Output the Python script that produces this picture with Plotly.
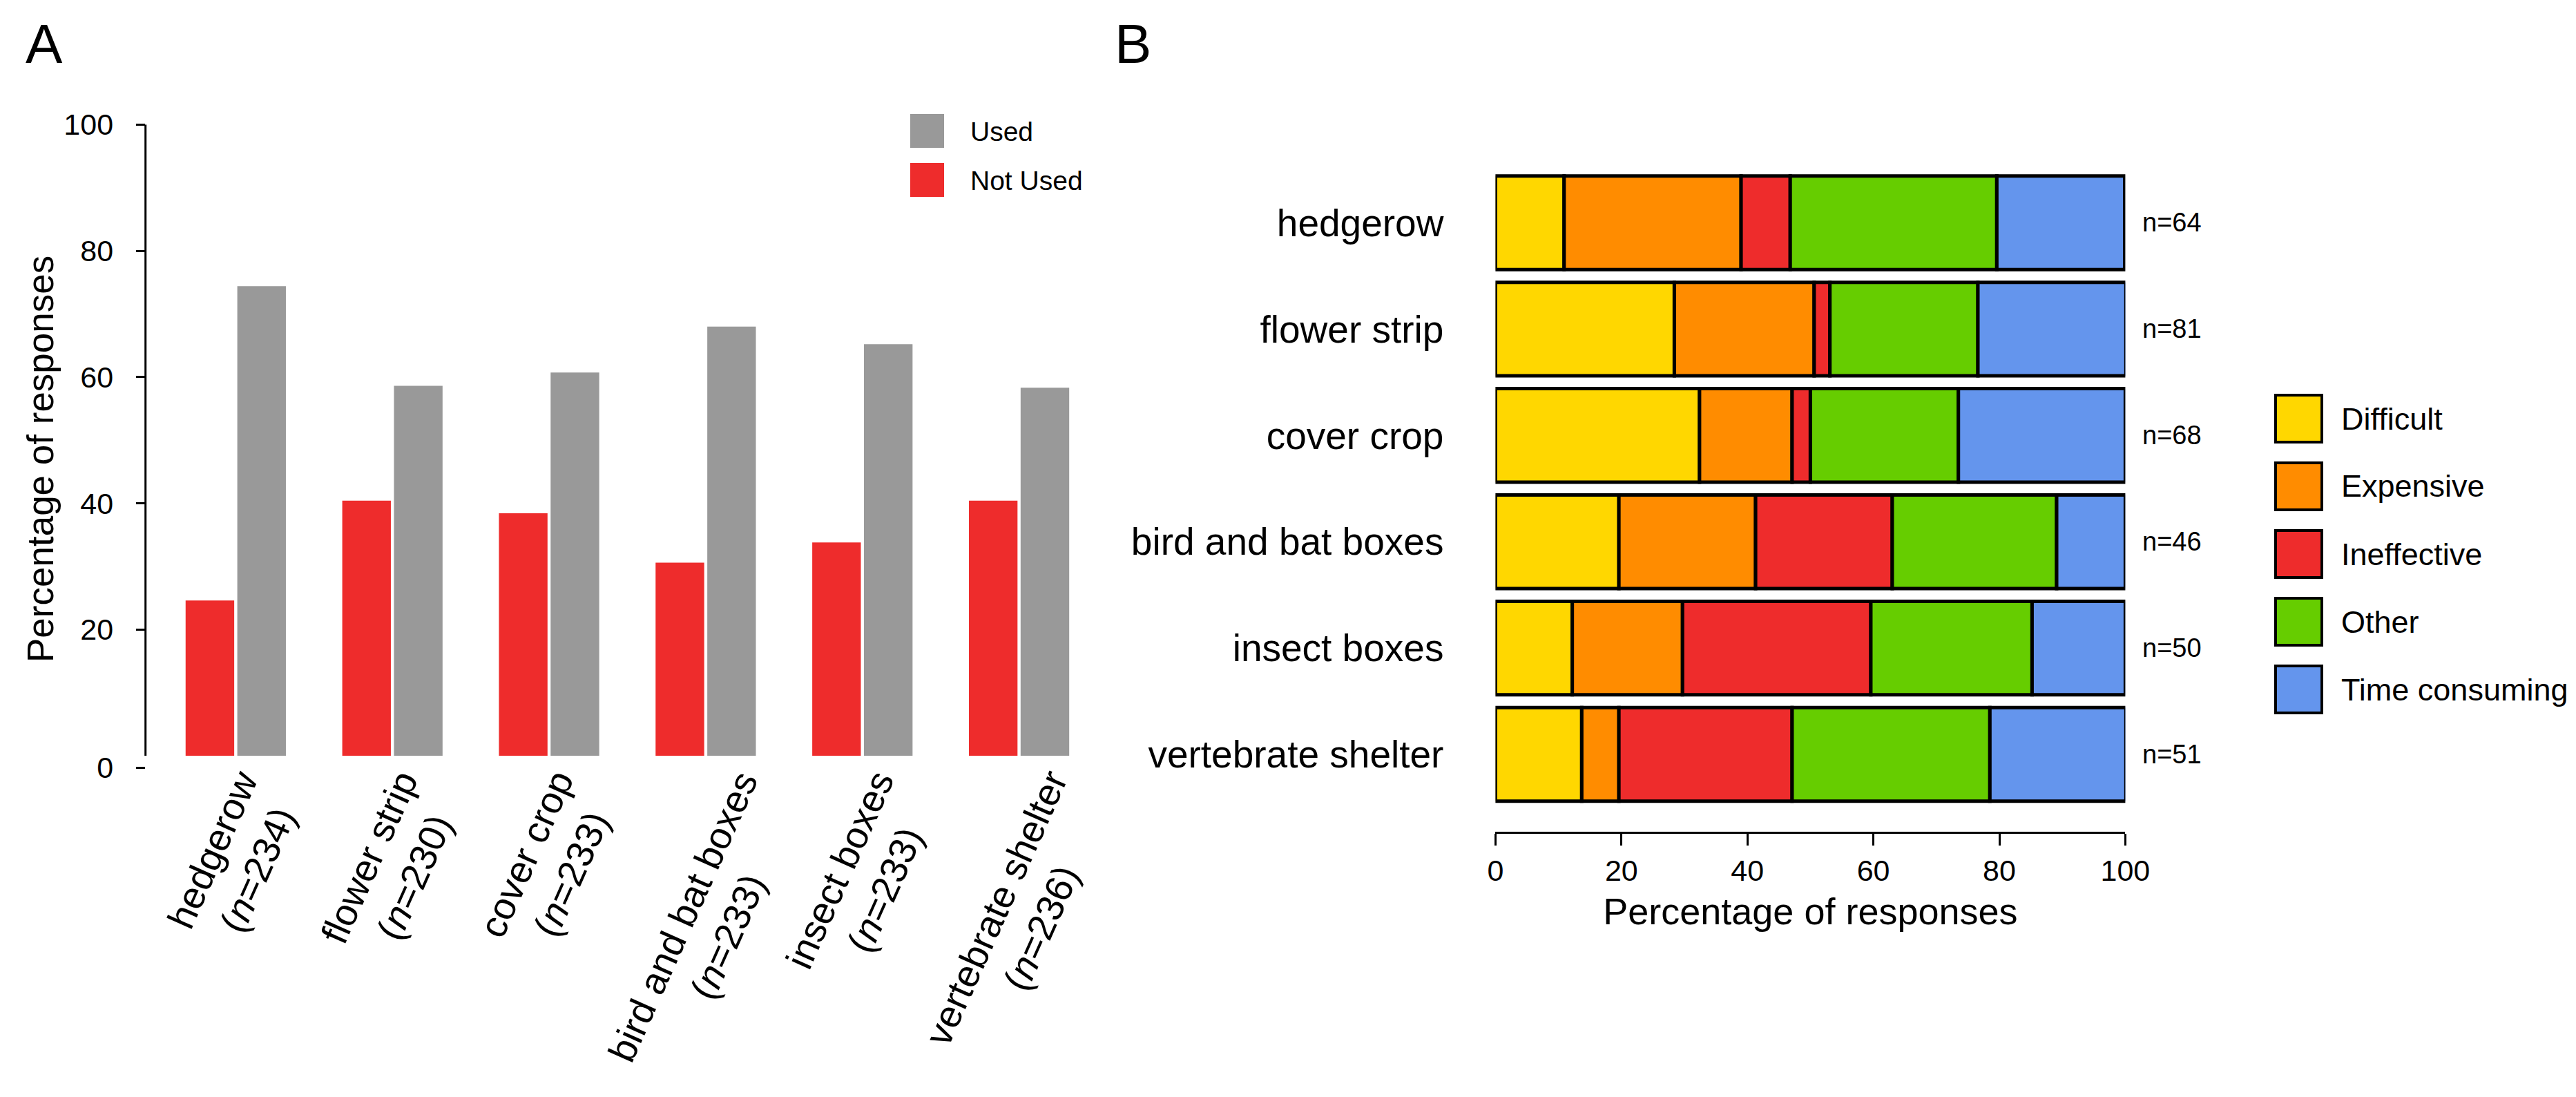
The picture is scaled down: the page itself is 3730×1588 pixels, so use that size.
import numpy as np
import plotly.graph_objects as go

W, H = 3730, 1588
FONT = "Liberation Sans, Arial, Helvetica, sans-serif"

# ---------------- data ----------------
practices = ["hedgerow", "flower strip", "cover crop", "bird and bat boxes",
             "insect boxes", "vertebrate shelter"]
n_used_total = [234, 230, 233, 233, 233, 236]
not_used = [24.6, 40.4, 38.4, 30.6, 33.8, 40.4]
used = [74.4, 58.6, 60.7, 68.0, 65.2, 58.3]
y_ticks_a = [0, 20, 40, 60, 80, 100]

reasons = ["Difficult", "Expensive", "Ineffective", "Other", "Time consuming"]
difficult = [10.9, 28.4, 32.4, 19.6, 12.2, 13.7]
expensive = [28.1, 22.2, 14.7, 21.7, 17.5, 5.9]
ineffective = [7.8, 2.5, 2.9, 21.7, 29.9, 27.5]
other = [32.8, 23.5, 23.5, 26.1, 25.6, 31.4]
time_consuming = [20.3, 23.5, 26.5, 10.9, 14.8, 21.6]
n_reason = [64, 81, 68, 46, 50, 51]
x_ticks_b = [0, 20, 40, 60, 80, 100]

col_used = "#999999"
col_not_used = "#EE2C2C"
reason_colors = ["#FFD700", "#FF8C00", "#EE2C2C", "#66CD00", "#6495ED"]


def px(x):
    return x / W


def py(y):
    return 1 - y / H


fig = go.Figure()

# ---------------- panel A ----------------
fig.add_trace(go.Bar(x=practices, y=not_used, name="Not Used",
                     marker=dict(color=col_not_used, line=dict(width=0)),
                     xaxis="x", yaxis="y", showlegend=False))
fig.add_trace(go.Bar(x=practices, y=used, name="Used",
                     marker=dict(color=col_used, line=dict(width=0)),
                     xaxis="x", yaxis="y", showlegend=False))

# ---------------- panel B (stacked horizontal) ----------------
series_b = [difficult, expensive, ineffective, other, time_consuming]
base = np.zeros(len(practices))
for name, vals, col in zip(reasons, series_b, reason_colors):
    fig.add_trace(go.Bar(y=practices, x=vals, base=base.copy(), orientation="h",
                         name=name, offsetgroup="B", width=0.88, offset=-0.44,
                         marker=dict(color=col, line=dict(color="black", width=5)),
                         xaxis="x2", yaxis="y2", showlegend=False))
    base = base + np.array(vals)

fig.update_layout(
    width=W, height=H, autosize=False,
    margin=dict(l=0, r=0, t=0, b=0, pad=0),
    paper_bgcolor="white", plot_bgcolor="white",
    font=dict(family=FONT, color="black"),
    barmode="group", bargap=0.34, bargroupgap=0.06,
    xaxis=dict(domain=[px(202.7), px(1581)], range=[-0.576, 5.5], type="category",
               categoryorder="array", categoryarray=practices,
               showticklabels=False, showline=False, ticks="",
               showgrid=False, zeroline=False, anchor="y", automargin=False),
    yaxis=dict(domain=[py(1108.8), py(172.3)], range=[-2.5, 100],
               tickmode="array", tickvals=[-1.9] + y_ticks_a[1:],
               ticktext=[str(v) for v in y_ticks_a],
               ticks="outside", ticklen=13, tickwidth=3, tickcolor="black",
               tickfont=dict(size=43), ticklabelstandoff=24,
               showline=False, showgrid=False, zeroline=False, anchor="x",
               automargin=False),
    xaxis2=dict(domain=[px(2157.4), px(3069.4)], range=[0, 100],
                anchor="free", position=py(1196.7),
                tickmode="array", tickvals=x_ticks_b,
                ticks="outside", ticklen=17, tickwidth=3, tickcolor="black",
                showline=True, linewidth=3, linecolor="black",
                tickfont=dict(size=43), showgrid=False, zeroline=False,
                automargin=False,
                title=dict(text="Percentage of responses", font=dict(size=54), standoff=16)),
    yaxis2=dict(domain=[py(1161), py(237.5)], range=[5.5, -0.5], type="category",
                anchor="x2", ticks="", showline=False, showgrid=False, zeroline=False,
                tickfont=dict(size=55), ticklabelstandoff=74, automargin=False),
)

shapes = [
    # panel A y-axis line (0 to 100)
    dict(type="line", xref="x domain", yref="y", x0=0, x1=0, y0=0, y1=100,
         line=dict(color="black", width=3)),
]
annotations = [
    dict(text="A", x=px(27), y=py(56), xref="paper", yref="paper", xanchor="left",
         yanchor="middle", showarrow=False, font=dict(size=80)),
    dict(text="B", x=px(1604), y=py(56), xref="paper", yref="paper", xanchor="left",
         yanchor="middle", showarrow=False, font=dict(size=80)),
    dict(text="Percentage of responses", x=px(50), y=py(657), xref="paper", yref="paper",
         xanchor="center", yanchor="middle",
         textangle=-90, showarrow=False, font=dict(size=53)),
]

# panel A category labels (rotated, centred lines)
for p, n in zip(practices, n_used_total):
    annotations.append(dict(text=f"{p}<br>(<i>n</i>={n})", x=p, xref="x",
                            y=py(1096), yref="paper", xanchor="center", yanchor="top",
                            textangle=-66, align="center", showarrow=False,
                            font=dict(size=55)))

# panel A legend
legend_a = [("Used", col_used, 157), ("Not Used", col_not_used, 228)]
for label, col, top in legend_a:
    shapes.append(dict(type="rect", xref="paper", yref="paper",
                       x0=px(1310), x1=px(1359), y0=py(top + 49), y1=py(top),
                       fillcolor=col, line=dict(width=0)))
    annotations.append(dict(text=label, x=px(1395), y=py(top + 25), xref="paper",
                            yref="paper", xanchor="left", yanchor="middle",
                            showarrow=False, font=dict(size=39)))

# panel B legend
for i, (label, col) in enumerate(zip(reasons, reason_colors)):
    top = 564 + i * 98
    shapes.append(dict(type="rect", xref="paper", yref="paper",
                       x0=px(3287), x1=px(3354), y0=py(top + 68), y1=py(top),
                       fillcolor=col, line=dict(color="black", width=4)))
    annotations.append(dict(text=label, x=px(3380), y=py(top + 34), xref="paper",
                            yref="paper", xanchor="left", yanchor="middle",
                            showarrow=False, font=dict(size=45)))

# panel B n labels
for p, n in zip(practices, n_reason):
    annotations.append(dict(text=f"n={n}", x=px(3092), y=p, xref="paper", yref="y2",
                            xanchor="left", yanchor="middle", showarrow=False,
                            font=dict(size=38)))

fig.update_layout(shapes=shapes, annotations=annotations)
fig.write_html("out.html")
